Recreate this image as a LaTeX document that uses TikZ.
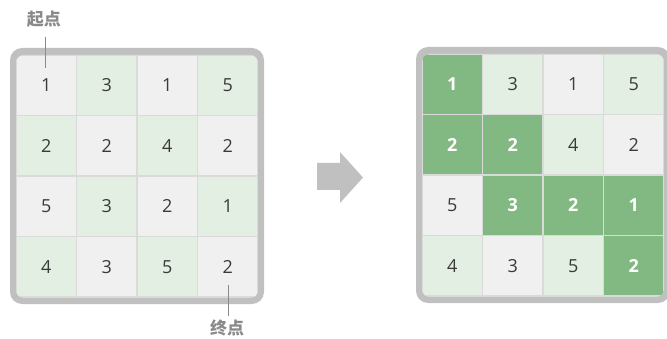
\documentclass[tikz,border=0pt]{standalone}
\usepackage{fontspec}
\setmainfont{Open Sans}
\newfontfamily\cjk{Noto Sans CJK SC}
\definecolor{cellgray}{HTML}{F0F0F0}
\definecolor{cellgreen}{HTML}{E3EFE3}
\definecolor{pathgreen}{HTML}{82B882}
\definecolor{framegray}{HTML}{C0C0C0}
\definecolor{sepgray}{HTML}{DADADA}
\definecolor{txt}{HTML}{3A3A3A}
\definecolor{lbl}{HTML}{8A8A8A}
\tikzset{
  cellbox/.style={minimum width=60.5pt,minimum height=60.5pt,inner sep=0pt,
    draw=sepgray,line width=1.5pt,font=\fontsize{18}{20}\selectfont,text=txt},
  cg/.style={cellbox,fill=cellgray},
  cl/.style={cellbox,fill=cellgreen},
  cp/.style={cellbox,fill=pathgreen,text=white,font=\fontsize{18}{20}\selectfont\bfseries},
  lab/.style={font=\cjk\fontsize{17}{20}\selectfont\bfseries,text=lbl},
  pointer/.style={draw=lbl,line width=0.8pt},
  bigarrow/.style={fill=framegray}
}
\begin{document}
\begin{tikzpicture}[x=1pt,y=-1pt]
\useasboundingbox (0,0) rectangle (667,339);
% left frame
\fill[framegray,rounded corners=12pt] (10,48) rectangle (264,304);
\begin{scope}
\clip[rounded corners=8pt] (16,55) rectangle (258,298);
\foreach \r/\row in {0/{1/g,3/l,1/g,5/l},1/{2/l,2/g,4/l,2/g},2/{5/g,3/l,2/g,1/l},3/{4/l,3/g,5/l,2/g}}{
  \foreach \v/\s [count=\c from 0] in \row {
    \node[c\s] (L-\r-\c) at ({16+30.25+60.5*\c},{55+30.25+60.5*\r}) {\v};
  }
}
\end{scope}
% right frame
\fill[framegray,rounded corners=12pt] (416,47) rectangle (670,303);
\begin{scope}
\clip[rounded corners=8pt] (422,54) rectangle (664,297);
\foreach \r/\row in {0/{1/p,3/l,1/g,5/l},1/{2/p,2/p,4/l,2/g},2/{5/g,3/p,2/p,1/p},3/{4/l,3/g,5/l,2/p}}{
  \foreach \v/\s [count=\c from 0] in \row {
    \node[c\s] (R-\r-\c) at ({422+30.25+60.5*\c},{54+30.25+60.5*\r}) {\v};
  }
}
\end{scope}
% labels
\node[lab] (start) at (44,19) {起点};
\coordinate (starttop) at (45,37);
\coordinate (startend) at (45,68);
\draw[pointer] (starttop) -- (startend);
\node[lab] (goal) at (227,328) {终点};
\coordinate (goaltop) at (228,285);
\coordinate (goalend) at (228,316);
\draw[pointer] (goaltop) -- (goalend);
% arrow
\fill[bigarrow] (317,163) -- (340,163) -- (340,152) -- (363,177.5) -- (340,203) -- (340,190) -- (317,190) -- cycle;
\end{tikzpicture}
\end{document}
